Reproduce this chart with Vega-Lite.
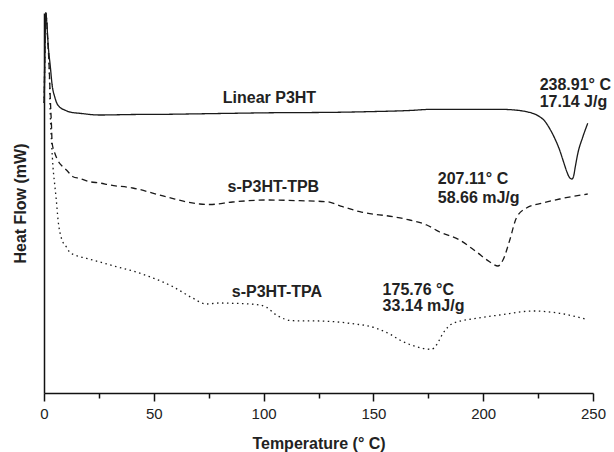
{
  "$schema": "https://vega.github.io/schema/vega-lite/v6.json",
  "width": 549,
  "height": 380,
  "autosize": {"type": "none"},
  "padding": {"left": 44, "top": 13, "right": 21, "bottom": 59},
  "config": {
    "font": "Liberation Sans",
    "view": {"stroke": null},
    "axis": {"grid": false, "domainColor": "#111", "domainWidth": 1.5, "tickColor": "#111", "tickWidth": 1.5, "labelColor": "#222", "titleColor": "#222"}
  },
  "layer": [
    {
      "data": {"values": [
        {"s":"Linear P3HT","T":0.1,"v":290},{"s":"Linear P3HT","T":0.5,"v":353},{"s":"Linear P3HT","T":0.8,"v":380},{"s":"Linear P3HT","T":1.2,"v":373},{"s":"Linear P3HT","T":1.9,"v":348},{"s":"Linear P3HT","T":2.9,"v":326},{"s":"Linear P3HT","T":3.7,"v":308},{"s":"Linear P3HT","T":4.9,"v":296},{"s":"Linear P3HT","T":5.8,"v":290},{"s":"Linear P3HT","T":7.1,"v":286},{"s":"Linear P3HT","T":9.4,"v":283},{"s":"Linear P3HT","T":11.7,"v":281},{"s":"Linear P3HT","T":16.3,"v":279.7},{"s":"Linear P3HT","T":25.4,"v":278},{"s":"Linear P3HT","T":40.4,"v":278.5},{"s":"Linear P3HT","T":55.9,"v":278.7},{"s":"Linear P3HT","T":70.9,"v":279.2},{"s":"Linear P3HT","T":85.9,"v":279.7},{"s":"Linear P3HT","T":106,"v":280.3},{"s":"Linear P3HT","T":116.4,"v":280.4},{"s":"Linear P3HT","T":136,"v":280.8},{"s":"Linear P3HT","T":146.9,"v":281.3},{"s":"Linear P3HT","T":166.5,"v":282.5},{"s":"Linear P3HT","T":177,"v":283.7},{"s":"Linear P3HT","T":207.5,"v":283.7},{"s":"Linear P3HT","T":214.3,"v":283},{"s":"Linear P3HT","T":219.7,"v":281.3},{"s":"Linear P3HT","T":223.4,"v":279},{"s":"Linear P3HT","T":225.7,"v":276.3},{"s":"Linear P3HT","T":228,"v":272},{"s":"Linear P3HT","T":230.2,"v":264.7},{"s":"Linear P3HT","T":232.5,"v":255},{"s":"Linear P3HT","T":234.8,"v":243},{"s":"Linear P3HT","T":236.6,"v":231},{"s":"Linear P3HT","T":237.8,"v":223},{"s":"Linear P3HT","T":238.9,"v":217},{"s":"Linear P3HT","T":239.6,"v":214.7},{"s":"Linear P3HT","T":240.4,"v":214},{"s":"Linear P3HT","T":241.1,"v":216.3},{"s":"Linear P3HT","T":242,"v":227},{"s":"Linear P3HT","T":243.1,"v":239.7},{"s":"Linear P3HT","T":245.4,"v":256.3},{"s":"Linear P3HT","T":247.6,"v":269.7},
        {"s":"s-P3HT-TPB","T":0.1,"v":290},{"s":"s-P3HT-TPB","T":0.8,"v":380},{"s":"s-P3HT-TPB","T":1.7,"v":353},{"s":"s-P3HT-TPB","T":2.4,"v":323},{"s":"s-P3HT-TPB","T":2.9,"v":293},{"s":"s-P3HT-TPB","T":3.4,"v":268},{"s":"s-P3HT-TPB","T":3.7,"v":250},{"s":"s-P3HT-TPB","T":4.9,"v":240},{"s":"s-P3HT-TPB","T":6.2,"v":233},{"s":"s-P3HT-TPB","T":8.7,"v":226},{"s":"s-P3HT-TPB","T":10.2,"v":223},{"s":"s-P3HT-TPB","T":13.2,"v":216.3},{"s":"s-P3HT-TPB","T":16.3,"v":214.5},{"s":"s-P3HT-TPB","T":20.8,"v":211.3},{"s":"s-P3HT-TPB","T":25.4,"v":210},{"s":"s-P3HT-TPB","T":29.9,"v":208},{"s":"s-P3HT-TPB","T":40.4,"v":205},{"s":"s-P3HT-TPB","T":55.9,"v":196},{"s":"s-P3HT-TPB","T":70.9,"v":189},{"s":"s-P3HT-TPB","T":75.5,"v":188.5},{"s":"s-P3HT-TPB","T":85.9,"v":191},{"s":"s-P3HT-TPB","T":101.4,"v":193},{"s":"s-P3HT-TPB","T":116.4,"v":192.3},{"s":"s-P3HT-TPB","T":128.7,"v":191.3},{"s":"s-P3HT-TPB","T":136,"v":186.3},{"s":"s-P3HT-TPB","T":143.8,"v":181.3},{"s":"s-P3HT-TPB","T":158.8,"v":176.3},{"s":"s-P3HT-TPB","T":166.5,"v":173},{"s":"s-P3HT-TPB","T":174.3,"v":168},{"s":"s-P3HT-TPB","T":180.2,"v":161},{"s":"s-P3HT-TPB","T":189.3,"v":153},{"s":"s-P3HT-TPB","T":197,"v":141},{"s":"s-P3HT-TPB","T":202.9,"v":131.3},{"s":"s-P3HT-TPB","T":206.7,"v":127},{"s":"s-P3HT-TPB","T":209,"v":133},{"s":"s-P3HT-TPB","T":212.1,"v":153},{"s":"s-P3HT-TPB","T":215.1,"v":175},{"s":"s-P3HT-TPB","T":219.7,"v":185},{"s":"s-P3HT-TPB","T":227.1,"v":190},{"s":"s-P3HT-TPB","T":234.8,"v":194},{"s":"s-P3HT-TPB","T":247.6,"v":199},
        {"s":"s-P3HT-TPA","T":0.1,"v":290},{"s":"s-P3HT-TPA","T":0.8,"v":380},{"s":"s-P3HT-TPA","T":1.7,"v":353},{"s":"s-P3HT-TPA","T":2.4,"v":323},{"s":"s-P3HT-TPA","T":2.8,"v":283},{"s":"s-P3HT-TPA","T":3.5,"v":248},{"s":"s-P3HT-TPA","T":4.1,"v":226},{"s":"s-P3HT-TPA","T":4.9,"v":208},{"s":"s-P3HT-TPA","T":5.6,"v":193},{"s":"s-P3HT-TPA","T":6.4,"v":173},{"s":"s-P3HT-TPA","T":7.9,"v":155},{"s":"s-P3HT-TPA","T":10.2,"v":146},{"s":"s-P3HT-TPA","T":11.7,"v":141},{"s":"s-P3HT-TPA","T":16.3,"v":136.3},{"s":"s-P3HT-TPA","T":19.3,"v":134.7},{"s":"s-P3HT-TPA","T":25.4,"v":131},{"s":"s-P3HT-TPA","T":33,"v":126.3},{"s":"s-P3HT-TPA","T":40.4,"v":122},{"s":"s-P3HT-TPA","T":48.1,"v":116.3},{"s":"s-P3HT-TPA","T":58.7,"v":106.3},{"s":"s-P3HT-TPA","T":67.9,"v":94.7},{"s":"s-P3HT-TPA","T":73.9,"v":89},{"s":"s-P3HT-TPA","T":80,"v":90},{"s":"s-P3HT-TPA","T":86.1,"v":89.7},{"s":"s-P3HT-TPA","T":93.6,"v":89},{"s":"s-P3HT-TPA","T":98.2,"v":88},{"s":"s-P3HT-TPA","T":101.3,"v":85.7},{"s":"s-P3HT-TPA","T":105.8,"v":78},{"s":"s-P3HT-TPA","T":113.4,"v":72.3},{"s":"s-P3HT-TPA","T":125.5,"v":72},{"s":"s-P3HT-TPA","T":139.2,"v":69.7},{"s":"s-P3HT-TPA","T":151.4,"v":64.7},{"s":"s-P3HT-TPA","T":157.4,"v":59},{"s":"s-P3HT-TPA","T":162,"v":53},{"s":"s-P3HT-TPA","T":169.6,"v":46.3},{"s":"s-P3HT-TPA","T":176.4,"v":43.7},{"s":"s-P3HT-TPA","T":178.7,"v":48},{"s":"s-P3HT-TPA","T":181.7,"v":59.7},{"s":"s-P3HT-TPA","T":186.2,"v":69.7},{"s":"s-P3HT-TPA","T":196.9,"v":74.7},{"s":"s-P3HT-TPA","T":207.5,"v":78},{"s":"s-P3HT-TPA","T":222.7,"v":82},{"s":"s-P3HT-TPA","T":234.8,"v":79.7},{"s":"s-P3HT-TPA","T":247,"v":73.7}
      ]},
      "mark": {"type": "line", "interpolate": "monotone", "color": "#1a1a1a", "strokeWidth": 1.3},
      "encoding": {
        "x": {"field": "T", "type": "quantitative",
              "scale": {"domain": [0, 250], "nice": false, "zero": false},
              "axis": {"values": [0,25,50,75,100,125,150,175,200,225,250],
                       "labelExpr": "datum.value % 50 === 0 ? datum.label : ''",
                       "tickSize": {"condition": {"test": "datum.value % 50 === 0", "value": 8}, "value": 5},
                       "labelFontSize": 15, "labelPadding": 5, "labelFlush": false,
                       "title": "Temperature (° C)", "titleFontSize": 16, "titleFontWeight": "bold", "titlePadding": 14}},
        "y": {"field": "v", "type": "quantitative",
              "scale": {"domain": [0, 380], "nice": false, "zero": false},
              "axis": {"ticks": false, "labels": false, "title": "Heat Flow (mW)", "titleFontSize": 16, "titleFontWeight": "bold", "titlePadding": 16}},
        "strokeDash": {"field": "s", "type": "nominal",
                       "scale": {"domain": ["Linear P3HT", "s-P3HT-TPB", "s-P3HT-TPA"], "range": [[1, 0], [6, 4], [1.5, 3.5]]},
                       "legend": null}
      }
    },
    {
      "data": {"values": [
        {"T": 81.4, "v": 290, "text": "Linear P3HT"},
        {"T": 225.7, "v": 303, "text": "238.91° C"},
        {"T": 225.7, "v": 286, "text": "17.14 J/g"},
        {"T": 83.6, "v": 201, "text": "s-P3HT-TPB"},
        {"T": 179.3, "v": 209, "text": "207.11° C"},
        {"T": 179.3, "v": 190, "text": "58.66 mJ/g"},
        {"T": 85.5, "v": 96, "text": "s-P3HT-TPA"},
        {"T": 154.2, "v": 98, "text": "175.76 °C"},
        {"T": 154.2, "v": 82, "text": "33.14 mJ/g"}
      ]},
      "mark": {"type": "text", "align": "left", "baseline": "alphabetic", "fontSize": 16, "fontWeight": "bold", "color": "#222"},
      "encoding": {
        "x": {"field": "T", "type": "quantitative"},
        "y": {"field": "v", "type": "quantitative"},
        "text": {"field": "text"}
      }
    }
  ]
}
